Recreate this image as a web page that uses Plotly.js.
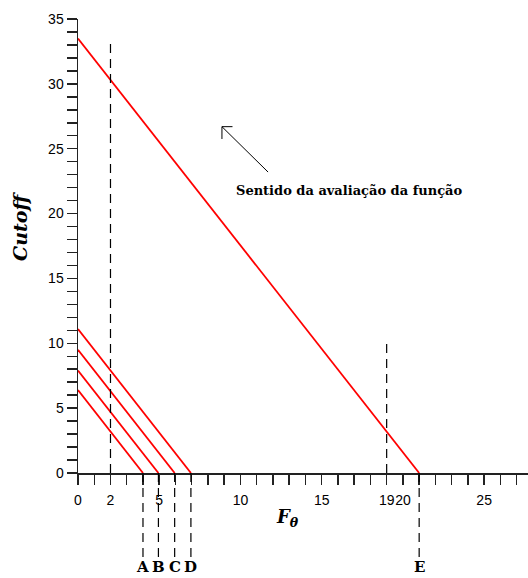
<!DOCTYPE html>
<html>
<head>
<meta charset="utf-8">
<script src="https://cdn.plot.ly/plotly-3.0.1.min.js"></script>
<style>html,body{margin:0;padding:0;background:#fff;}</style>
</head>
<body>
<div id="chart" style="width:528px;height:578px;"></div>
<script>
// Red lines: start at x=0 with intercept, end on the F axis
const lineLabels = ['A', 'B', 'C', 'D', 'E'];
const lineIntercepts = [6.4, 7.9, 9.5, 11.1, 33.5];
const lineEnds = [4, 4.95, 5.95, 6.95, 21];

// Vertical dashed reference lines above the axis
const refX = [2, 19];
const refTop = [33.4, 10];

// Tick labels
const xTickVals = [0, 2, 5, 10, 15, 19, 20, 25];
const xTickText = ['0', '2', '5', '10', '15', '19', '20', '25'];
const yTickVals = [0, 5, 10, 15, 20, 25, 30, 35];

const annText = 'Sentido da avaliação da função';
const arrowTip = [8.86, 26.7];
const arrowTail = [11.7, 23.2];
const headDx = 0.65, headDy = 0.95;

const traces = lineLabels.map((lab, i) => ({
  type: 'scatter', mode: 'lines',
  x: [0, lineEnds[i]], y: [lineIntercepts[i], 0],
  line: {color: '#ff0000', width: 1.8},
  hoverinfo: 'skip', showlegend: false
}));

const shapes = [];
refX.forEach((x, i) => {
  shapes.push({type: 'line', xref: 'x', yref: 'y', x0: x, x1: x, y0: 0, y1: refTop[i],
    line: {color: '#000', width: 1.2, dash: '9px,6px'}});
});
lineEnds.forEach((x) => {
  shapes.push({type: 'line', xref: 'x', yref: 'paper', x0: x, x1: x, y0: 0, y1: -0.19,
    line: {color: '#000', width: 1.2, dash: '9px,6px'}});
});
// Arrow (thin line with open chevron head)
shapes.push({
  type: 'path', xref: 'x', yref: 'y',
  path: 'M' + arrowTail[0] + ',' + arrowTail[1] + ' L' + arrowTip[0] + ',' + arrowTip[1] +
        ' M' + (arrowTip[0] + headDx) + ',' + arrowTip[1] + ' L' + arrowTip[0] + ',' + arrowTip[1] +
        ' L' + arrowTip[0] + ',' + (arrowTip[1] - headDy),
  line: {color: '#000', width: 1}
});

const serif = 'DejaVu Serif';
const annotations = lineLabels.map((lab, i) => ({
  x: lineEnds[i], y: -0.2295, xref: 'x', yref: 'paper', text: '<b>' + lab + '</b>',
  showarrow: false, font: {family: serif, size: 15, color: '#000'},
  xanchor: 'center', yanchor: 'bottom', borderpad: 0
}));
annotations.push({
  x: 16.7, y: 21.8, xref: 'x', yref: 'y', text: '<b>' + annText + '</b>',
  showarrow: false, font: {family: serif, size: 13, color: '#000'},
  xanchor: 'center', yanchor: 'middle'
});
annotations.push({
  x: -0.128, y: 0.543, xref: 'paper', yref: 'paper', text: '<b><i>Cutoff</i></b>',
  textangle: -90, showarrow: false, font: {family: serif, size: 19, color: '#000'},
  xanchor: 'center', yanchor: 'middle'
});
annotations.push({
  x: 0.465, y: -0.1, xref: 'paper', yref: 'paper', text: '<b><i>F</i></b><sub><b><i>θ</i></b></sub>',
  showarrow: false, font: {family: serif, size: 18, color: '#000'},
  xanchor: 'center', yanchor: 'middle'
});

const axisCommon = {
  showline: true, linecolor: '#222', linewidth: 1.5,
  ticks: 'outside', ticklen: 10, tickwidth: 1.5, tickcolor: '#222',
  showgrid: false, zeroline: false, fixedrange: true,
  tickfont: {family: 'Liberation Sans', size: 14, color: '#000'},
  minor: {dtick: 1, tick0: 0, ticks: 'outside', ticklen: 10, tickwidth: 1.5, tickcolor: '#222', showgrid: false}
};

const layout = {
  width: 528, height: 578,
  margin: {l: 78, r: 0, t: 19, b: 105},
  paper_bgcolor: '#fff', plot_bgcolor: '#fff',
  showlegend: false,
  xaxis: Object.assign({}, axisCommon, {
    range: [0, 27.7], tickmode: 'array', tickvals: xTickVals, ticktext: xTickText,
    tickangle: 0, ticklabelstandoff: 4
  }),
  yaxis: Object.assign({}, axisCommon, {
    range: [0, 35], tickmode: 'array', tickvals: yTickVals
  }),
  shapes: shapes,
  annotations: annotations
};

Plotly.newPlot('chart', traces, layout, {displayModeBar: false, staticPlot: true});
</script>
</body>
</html>
